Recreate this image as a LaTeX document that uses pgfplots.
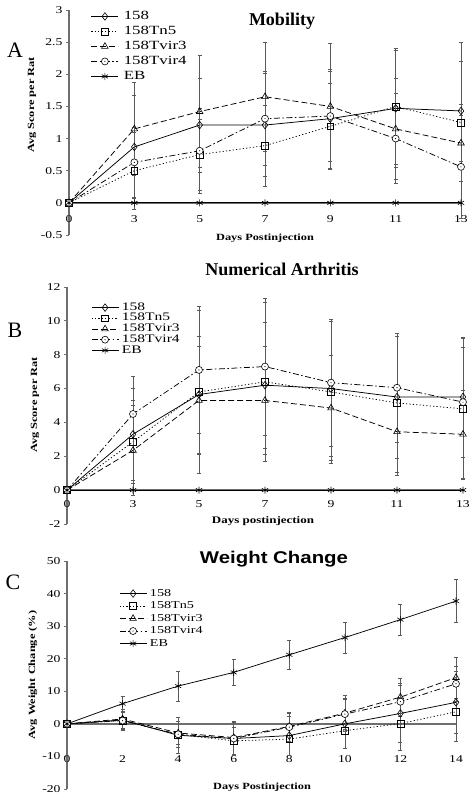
\documentclass[border=0pt]{standalone}
\usepackage{fontspec}
\setmainfont{Liberation Serif}
\newfontfamily\strserif[FakeStretch=1.3]{Liberation Serif}
\newfontfamily\legserif[FakeStretch=1.35]{Liberation Serif}
\newfontfamily\titlesans[FakeStretch=1.2]{Liberation Sans}
\usepackage{pgfplots}
\pgfplotsset{compat=1.18}
\pgfdeclareplotmark{odot}{%
  \pgfpathcircle{\pgfpointorigin}{\pgfplotmarksize}\pgfusepathqfillstroke
  \pgfscope\pgfsetfillcolor{black}%
  \pgfpathcircle{\pgfpointorigin}{0.6pt}\pgfusepathqfill\endpgfscope}
\definecolor{axgray}{RGB}{110,110,110}
\definecolor{ebgray}{RGB}{90,90,90}
\pgfplotsset{
  panel/.style={
    scale only axis,
    axis x line=middle, axis y line=left,
    axis line style={-, draw=axgray, line width=1.3pt},
    tick align=outside, major tick length=3pt,
    ytick style={draw=axgray, line width=0.8pt},
    xtick style={draw=none},
    hide obscured x ticks=false,
    clip=false,
    ticklabel style={font=\strserif\fontsize{10.5}{12}\selectfont},
    /pgf/number format/assume math mode=true,
    every axis plot/.append style={line width=0.75pt, black, mark size=3.4pt,
      mark options={solid, fill=white, line width=0.6pt},
      error bars/y dir=both, error bars/y explicit},
    error bars/error bar style={ebgray, line width=0.5pt, solid},
    error bars/error mark options={rotate=90, mark size=2pt, ebgray, solid, line width=0.5pt},
    legend cell align=left,
    legend image code/.code={\draw[mark repeat=2, mark phase=2] plot coordinates {(0pt,0pt)(13.5pt,0pt)(27pt,0pt)};},
  },
  s158/.style={solid, mark=diamond, mark size=3.8pt},
  sTn5/.style={dash pattern=on 1.2pt off 2.2pt, mark=square, mark size=3.4pt},
  sTv3/.style={dash pattern=on 6pt off 3pt, mark=triangle, mark size=3.8pt},
  sTv4/.style={dash pattern=on 6pt off 2.5pt on 1.5pt off 2.5pt, mark=odot, mark size=3.5pt},
  sEB/.style={solid, mark=asterisk, mark size=3.6pt},
}
\begin{document}
\begin{tikzpicture}
\path[use as bounding box] (0pt,0pt) rectangle (474pt,798pt);
% ---------------- Panel A ----------------
\begin{axis}[panel, at={(69pt,563pt)}, anchor=south west,
  width=392pt, height=225pt,
  xmin=0, xmax=6, ymin=-0.5, ymax=3,
  xtick={0,1,2,3,4,5,6}, xticklabels={0,3,5,7,9,11,13},
  ytick={-0.5,0,0.5,1,1.5,2,2.5,3},
  xticklabel style={yshift=-6pt},
  legend style={at={(axis description cs:0.048,1.01)}, anchor=north west,
    draw=none, fill=none, font=\legserif\fontsize{12.5}{13}\selectfont,
    nodes={inner sep=0pt, text height=10pt, text depth=3pt}, row sep=2pt,
    /tikz/every odd column/.append style={column sep=5pt}}]
\addplot[s158] coordinates {(0,0)+-(0,0) (1,0.87)+-(0,0.8) (2,1.21)+-(0,0.73) (3,1.21)+-(0,0.8) (4,1.31)+-(0,0.77) (5,1.47)+-(0,0.91) (6,1.43)+-(0,0.78)};
\addplot[sTn5] coordinates {(0,0)+-(0,0) (1,0.5)+-(0,0.6) (2,0.75)+-(0,0.55) (3,0.89)+-(0,0.63) (4,1.19)+-(0,0.67) (5,1.5)+-(0,0.9) (6,1.25)+-(0,1.25)};
\addplot[sTv3] coordinates {(0,0)+-(0,0) (1,1.15)+-(0,0.72) (2,1.42)+-(0,0.87) (3,1.65)+-(0,0.85) (4,1.5)+-(0,0.98) (5,1.15)+-(0,0.79) (6,0.93)+-(0,0.6)};
\addplot[sTv4] coordinates {(0,0)+-(0,0) (1,0.63)+-(0,0.55) (2,0.81)+-(0,0.66) (3,1.31)+-(0,0.73) (4,1.35)+-(0,0.7) (5,1.0)+-(0,0.7) (6,0.56)+-(0,0.8)};
\addplot[sEB] coordinates {(0,0)+-(0,0) (1,0)+-(0,0) (2,0)+-(0,0) (3,0)+-(0,0) (4,0)+-(0,0) (5,0)+-(0,0) (6,0)+-(0,0)};
\legend{158,158Tn5,158Tvir3,158Tvir4,EB}
\end{axis}
% ---------------- Panel B ----------------
\begin{axis}[panel, at={(67pt,274pt)}, anchor=south west,
  width=396pt, height=237pt,
  xmin=0, xmax=6, ymin=-2, ymax=12,
  xtick={0,1,2,3,4,5,6}, xticklabels={0,3,5,7,9,11,13},
  ytick={-2,0,2,4,6,8,10,12},
  xticklabel style={yshift=-4pt},
  legend style={at={(axis description cs:0.053,0.945)}, anchor=north west,
    draw=none, fill=none, font=\legserif\fontsize{11.5}{12}\selectfont,
    nodes={inner sep=0pt, text height=8pt, text depth=2.7pt}, row sep=0pt,
    /tikz/every odd column/.append style={column sep=3pt}}]
\addplot[s158] coordinates {(0,0)+-(0,0) (1,3.3)+-(0,2.7) (2,5.65)+-(0,3.45) (3,6.2)+-(0,3.7) (4,6.0)+-(0,4.0) (5,5.5)+-(0,3.6) (6,5.5)+-(0,3.55)};
\addplot[sTn5] coordinates {(0,0)+-(0,0) (1,2.85)+-(0,2.45) (2,5.8)+-(0,4.8) (3,6.4)+-(0,4.7) (4,5.8)+-(0,4.2) (5,5.15)+-(0,4.1) (6,4.8)+-(0,4.15)};
\addplot[sTv3] coordinates {(0,0)+-(0,0) (1,2.35)+-(0,2.65) (2,5.3)+-(0,3.2) (3,5.3)+-(0,3.2) (4,4.85)+-(0,3.1) (5,3.45)+-(0,2.6) (6,3.3)+-(0,2.6)};
\addplot[sTv4] coordinates {(0,0)+-(0,0) (1,4.5)+-(0,2.25) (2,7.1)+-(0,3.75) (3,7.3)+-(0,4.05) (4,6.35)+-(0,3.75) (5,6.05)+-(0,3.2) (6,5.2)+-(0,3.25)};
\addplot[sEB] coordinates {(0,0)+-(0,0) (1,0)+-(0,0) (2,0)+-(0,0) (3,0)+-(0,0) (4,0)+-(0,0) (5,0)+-(0,0) (6,0)+-(0,0)};
\legend{158,158Tn5,158Tvir3,158Tvir4,EB}
\end{axis}
% ---------------- Panel C ----------------
\begin{axis}[panel, at={(67pt,9pt)}, anchor=south west,
  width=389pt, height=228pt,
  xmin=0, xmax=14, ymin=-20, ymax=50,
  xtick={0,2,4,6,8,10,12,14},
  ytick={-20,-10,0,10,20,30,40,50},
  xticklabel style={yshift=-25pt},
  legend style={at={(axis description cs:0.126,0.89)}, anchor=north west,
    draw=none, fill=none, font=\legserif\fontsize{10.5}{11}\selectfont,
    nodes={inner sep=0pt, text height=8pt, text depth=2.5pt}, row sep=2pt,
    /tikz/every odd column/.append style={column sep=3pt}}]
\addplot[s158] coordinates {(0,0)+-(0,0) (2,1.2)+-(0,3.3) (4,-3.5)+-(0,5.5) (6,-4.5)+-(0,5) (8,-3.6)+-(0,6) (10,0)+-(0,7.5) (12,3.2)+-(0,8.8) (14,6.6)+-(0,9.4)};
\addplot[sTn5] coordinates {(0,0)+-(0,0) (2,1.0)+-(0,2.8) (4,-3.3)+-(0,4) (6,-5.2)+-(0,4.3) (8,-4.7)+-(0,5) (10,-2.1)+-(0,5.5) (12,0.1)+-(0,8.1) (14,3.7)+-(0,9.1)};
\addplot[sTv3] coordinates {(0,0)+-(0,0) (2,1.5)+-(0,3) (4,-2.8)+-(0,3.5) (6,-4.2)+-(0,5) (8,-0.8)+-(0,4.5) (10,3.3)+-(0,5.5) (12,8.2)+-(0,5.8) (14,14.2)+-(0,6.4)};
\addplot[sTv4] coordinates {(0,0)+-(0,0) (2,1.0)+-(0,2.5) (4,-3.2)+-(0,4) (6,-4.5)+-(0,5) (8,-1)+-(0,4.2) (10,3.0)+-(0,4.8) (12,6.8)+-(0,5.7) (14,12.3)+-(0,5.4)};
\addplot[sEB] coordinates {(0,0)+-(0,0) (2,6.2)+-(0,2.2) (4,11.6)+-(0,4.7) (6,15.8)+-(0,4) (8,21.2)+-(0,4.4) (10,26.5)+-(0,4.7) (12,32)+-(0,4.7) (14,37.7)+-(0,6.6)};
\legend{158,158Tn5,158Tvir3,158Tvir4,EB}
\end{axis}
% ---------------- Text ----------------
\node[font=\bfseries\fontsize{18}{20}\selectfont] at (282pt,777pt) {Mobility};
\node[font=\bfseries\fontsize{18}{20}\selectfont] at (282pt,529pt) {Numerical Arthritis};
\node[font=\titlesans\bfseries\fontsize{17}{19}\selectfont] at (274pt,239pt) {Weight Change};
\node[font=\fontsize{22}{24}\selectfont] at (15pt,748pt) {A};
\node[font=\fontsize{22}{24}\selectfont] at (15pt,468pt) {B};
\node[font=\fontsize{22}{24}\selectfont] at (13pt,216pt) {C};
\node[font=\strserif\bfseries\fontsize{9.5}{11}\selectfont] at (265pt,560pt) {Days Postinjection};
\node[font=\strserif\bfseries\fontsize{10}{11}\selectfont] at (263pt,277pt) {Days postinjection};
\node[font=\strserif\bfseries\fontsize{9.5}{11}\selectfont] at (262pt,11pt) {Days Postinjection};
\node[rotate=90, font=\strserif\bfseries\fontsize{9.5}{11}\selectfont] at (32pt,693pt) {Avg Score per Rat};
\node[rotate=90, font=\strserif\bfseries\fontsize{9.5}{11}\selectfont] at (35pt,393pt) {Avg Score per Rat};
\node[rotate=90, font=\strserif\bfseries\fontsize{9.5}{11}\selectfont] at (33pt,123pt) {Avg Weight Change (\%)};
\end{tikzpicture}
\end{document}
